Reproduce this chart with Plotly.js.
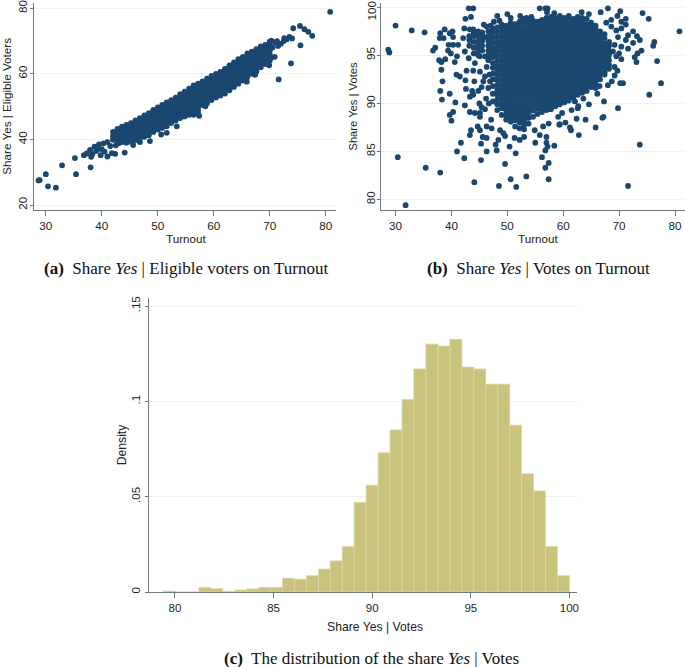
<!DOCTYPE html>
<html><head><meta charset="utf-8">
<script src="https://cdn.plot.ly/plotly-3.0.1.min.js"></script>
<style>html,body{margin:0;padding:0;background:#fff}#c{width:685px;height:667px}</style>
</head><body><div id="c"></div>
<script>
// Panel (a): isolated points, [turnout, share yes of eligible voters]
const eligibleLoose = [[28.7,27.5],[28.9,27.6],[30,29.4],[30.4,25.7],[31.8,25.3],[32.9,32.1],[35.2,34.3],[35.4,29.4],[38,31.5],[36.8,35.2],[37.3,35.7],[38.1,34.7],[37.9,36.8],[38.3,35.5],[38.7,37.8],[39.5,38.5],[40.3,38.8],[41,39.2],[41.5,38],[40,37],[39,36.5],[40.5,36.3],[39.8,35.2],[39.4,37.2],[41,34.8],[41.8,35.8],[42.4,35.6],[44.1,36],[48.6,39.5],[50.6,41.5],[51.6,42],[53.4,44],[58.5,50.1],[57.4,47.2],[57,48],[65.9,57.6],[67.4,59.7],[67.6,60.6],[69.9,62.6],[71.6,58.3],[73.8,63.2],[75.5,68.7],[74.2,73.9],[75.4,74.6],[76.2,73.6],[76.9,72.8],[77.6,71.6],[80.8,78.9],[70.5,68],[71,69.5],[71.5,68.5],[72,69.2],[72.5,70],[73,70.5],[73.5,71.3],[74,70.8],[72.6,70.9],[71.3,70],[70.3,70.1],[70.9,65.2],[70.3,65],[42.5,38.2],[43,38.8],[45.6,38.3],[46.8,39.2]];
// Panel (a): dense band, each row is [turnout, share, share, ...]
const eligibleBand = [
[42,39.9,41,42.3],[42.8,39.6,40.6,41.6,42.6,43.2],[43.6,39.2,40.2,41.2,42.2,43.2,43.9],[44.4,39,40,41,42,43,44,44.4],[45.2,39.3,40.3,41.3,42.3,43.3,44.3,45],
[46,39.8,40.8,41.8,42.8,43.8,44.8,45.8],[46.8,40.3,41.3,42.3,43.3,44.3,45.3,46.5],[47.6,40.8,41.8,42.8,43.8,44.8,45.8,46.8,47.3],[48.4,41.3,42.3,43.3,44.3,45.3,46.3,47.3,48],[49.2,42.3,43.3,44.3,45.3,46.3,47.3,48.3,49],
[50,43,44,45,46,47,48,49,49.8],[50.8,43.5,44.5,45.5,46.5,47.5,48.5,49.5,50.5],[51.6,44,45,46,47,48,49,50,51,51.3],[52.4,45,46,47,48,49,50,51,52],[53.2,45.8,46.8,47.8,48.8,49.8,50.8,51.8,52.7],
[54,46.5,47.5,48.5,49.5,50.5,51.5,52.5,53.8],[54.8,47,48,49,50,51,52,53,54,54.6],[55.6,47.5,48.5,49.5,50.5,51.5,52.5,53.5,54.5,55.5],[56.4,47.5,48.5,49.5,50.5,51.5,52.5,53.5,54.5,55.5,56.5],[57.2,48,49,50,51,52,53,54,55,56,57],
[58,50.5,51.5,52.5,53.5,54.5,55.5,56.5,57.7],[58.8,51,52,53,54,55,56,57,58,58.5],[59.6,52,53,54,55,56,57,58,59,59.4],[60.4,52.8,53.8,54.8,55.8,56.8,57.8,58.8,60],[61.2,53.4,54.4,55.4,56.4,57.4,58.4,59.4,60.6],
[62,54,55,56,57,58,59,60,61,61.5],[62.8,55,56,57,58,59,60,61,62,62.6],[63.6,56,57,58,59,60,61,62,63,63.5],[64.4,57,58,59,60,61,62,63,64,64.5],[65.2,58,59,60,61,62,63,64,65.2],
[66,59,60,61,62,63,64,65,66.2],[66.8,60,61,62,63,64,65,66,66.8],[67.6,60.8,61.8,62.8,63.8,64.8,65.8,66.8,67.5],[68.4,62,63,64,65,66,67,68,68.4],[69.2,63,64,65,66,67,68,68.8],[70,64,65,66,67,68,69,69.8]
];
// Panel (b): isolated points, [turnout, share yes of votes]
const votesLoose = [[28.7,95.6],[28.9,95.3],[30,98.1],[30.4,84.4],[31.8,79.4],[32.9,97.6],[35.2,97.4],[35.4,83.3],[38,82.8],[36.7,95.5],[37.1,95.8],[37.8,94.5],[38.2,94.3],[38.9,94.6],[38.2,93.5],[38.4,92.3],[38,91.3],[38.3,90.4],[39.7,91],[40.7,90.1],[40.3,89.1],[39.7,88.8],[40,88.2],[41,85],[41.7,85.9],[42.3,84.3],[44.1,81.8],[45.3,84.1],[46.3,85],[48.1,85.1],[47.9,85.7],[48.5,81.4],[49.6,83.7],[50.6,82.1],[50.4,85.5],[51.5,84.8],[51.6,81.3],[53.4,82.4],[56.2,84.4],[56.8,83.3],[57.4,83.8],[57.4,82.1],[58.4,85.6],[62.8,86.7],[65.8,87.5],[71.6,81.4],[73.7,85.7],[69.8,89.5],[67.3,90.2],[67.2,88.6],[67,88.5],[64,88.3],[62.4,88.4],[75.4,90.9],[77.5,92.1],[76.8,94.4],[76.1,96],[76.3,96.4],[75.3,98.8],[74.2,99.4],[80.8,97.5],[73.1,94.3],[74,95.5],[73.3,95.2],[72.8,94.8],[72.5,97.5],[73.2,97],[73.7,96.6],[72.5,96.3],[71.2,98.8],[71.2,98.2],[70.2,99.6],[69.7,99.1],[70.4,98.5],[68,99.9],[66.7,99.5],[68.6,98.7],[67.7,98.4],[68.6,98],[69.5,97.6],[70.4,97.8],[71.6,97.1],[71.2,96.6],[69.8,96.9],[69.2,96.1],[70.4,95.9],[71.6,95.7],[68.9,95.4],[70,95.2],[69.5,94.9],[70.4,94.6],[69.2,93.8],[69.7,93.4],[69.2,92.9],[68.7,92.3],[68,91.9],[66.5,91.8],[65.8,91.6],[66.1,91],[70.7,92.1],[70.2,92.1],[64.6,89.9],[62.6,89.5],[61.2,87.5],[59.3,87.8],[60.4,88],[63.3,99.5],[64.6,99.3],[43.1,99.9],[43.9,99.9],[43.5,99],[42.5,98.8],[42.3,97.8],[43.3,97.7],[43.9,97.7],[45.8,98.2],[48.2,99.1],[50,99.3],[52.3,99.1],[55.8,99.9],[56.8,99.9],[57.2,99.9],[57.1,99.5],[58.4,99.4],[38.8,97.7],[38,97.3],[37.9,96.8],[38.6,96.8],[40.2,97.5],[39.7,97.3],[40.3,96.9],[39.5,96.1],[40.3,96.1],[41.2,96.1],[39.4,95.5],[39.9,95.2],[41,94.9],[40.6,94.3],[42.1,96.8],[42.4,95.4],[43.1,94.7],[44.2,94.2],[42.7,93.4],[43.9,93.4],[40.9,93],[41.5,92.8],[42.5,92.4],[44.1,92.3],[42.6,91.5],[43.7,91.3],[44.8,91.3],[43.3,90.7],[43.9,90.9],[42.4,89.8],[43.3,89.1],[44.2,89],[45.4,89.6],[45,90],[45.1,89],[46,89.4],[45.1,88.6],[44.7,87.6],[45.1,87.2],[43.5,87.2],[43.3,86.7],[45.3,85.8],[45.6,86.5],[46.3,86.4],[46.3,87.6],[47.1,88.3],[47.2,87.4],[48.7,87.2],[49.3,86.9],[48.4,86.2],[49.6,86.6],[51.3,86.4],[52.2,86.2],[53,86.5],[55,85.9],[55.8,86.7],[57,86.5],[57,85.9],[57.2,85.5],[56.8,85.1],[54.9,87.2],[56.4,87.6],[57.4,87.9],[59.1,88.6],[59.4,87.8],[61.4,87.2],[59.8,89],[61.5,89.3],[62.7,89.7],[62.1,90.2],[63.6,90.5],[45.1,93.3],[46,92.8],[45.7,92.3],[45.4,91.7],[46.6,91.6],[46.3,93.8],[45.1,94.9],[46,94.9],[46.2,90.5],[46.7,90],[46.9,92.3],[46.8,93],[45.9,96.9],[46.3,98],[47,98.1],[47.6,98.5],[48.6,98.6],[50.6,98.9],[52.8,98.8],[54.3,99],[53.4,98.9]];
// Panel (b): dense cloud, each row is [turnout, share, share, ...]
const votesCloud = [
[43.2,96,96.6,97],[44,95.2,95.8,96.4,97,97.3],[44.8,95,95.5,96,96.5,97,97.5],[45.5,95.5,96,96.5,97,97.4],
[46.6,94.5,95,95.5,96,96.5,97,97.5],
[47.4,90.2,91,91.8,92.5,93.1,93.7,94.2,94.8,95.3,95.8,96.3,96.8,97.3,97.8],
[48.2,89.3,89.9,90.4,90.9,91.4,91.9,92.4,92.9,93.4,93.9,94.4,94.9,95.4,95.9,96.4,96.9,97.4,97.9],
[49,88.8,89.5,90,90.5,91,91.5,92,92.5,93,93.5,94,94.5,95,95.5,96,96.5,97,97.5,98,98.2],
[49.8,88.3,88.75,89.25,89.75,90.25,90.75,91.25,91.75,92.25,92.75,93.25,93.75,94.25,94.75,95.25,95.75,96.25,96.75,97.25,97.75,98.1],
[50.6,88.1,88.5,89,89.5,90,90.5,91,91.5,92,92.5,93,93.5,94,94.5,95,95.5,96,96.5,97,97.5,98,98.4],
[51.4,87.6,88.25,88.75,89.25,89.75,90.25,90.75,91.25,91.75,92.25,92.75,93.25,93.75,94.25,94.75,95.25,95.75,96.25,96.75,97.25,97.75,98.25],
[52.2,87.4,88,88.5,89,89.5,90,90.5,91,91.5,92,92.5,93,93.5,94,94.5,95,95.5,96,96.5,97,97.5,98,98.5],
[53,87.3,87.75,88.25,88.75,89.25,89.75,90.25,90.75,91.25,91.75,92.25,92.75,93.25,93.75,94.25,94.75,95.25,95.75,96.25,96.75,97.25,97.75,98.3],
[53.8,87.9,88.5,89,89.5,90,90.5,91,91.5,92,92.5,93,93.5,94,94.5,95,95.5,96,96.5,97,97.5,98,98.5],
[54.6,88.6,89.25,89.75,90.25,90.75,91.25,91.75,92.25,92.75,93.25,93.75,94.25,94.75,95.25,95.75,96.25,96.75,97.25,97.75,98.25,98.6],
[55.4,88.9,89.5,90,90.5,91,91.5,92,92.5,93,93.5,94,94.5,95,95.5,96,96.5,97,97.5,98,98.5],
[56.2,89.1,89.25,89.75,90.25,90.75,91.25,91.75,92.25,92.75,93.25,93.75,94.25,94.75,95.25,95.75,96.25,96.75,97.25,97.75,98.25,98.7],
[57,89.3,89.5,90,90.5,91,91.5,92,92.5,93,93.5,94,94.5,95,95.5,96,96.5,97,97.5,98,98.5,98.9],
[57.8,89.4,89.75,90.25,90.75,91.25,91.75,92.25,92.75,93.25,93.75,94.25,94.75,95.25,95.75,96.25,96.75,97.25,97.75,98.25,98.75,99],
[58.6,89.7,90,90.5,91,91.5,92,92.5,93,93.5,94,94.5,95,95.5,96,96.5,97,97.5,98,98.5,98.9],
[59.4,89.9,90.25,90.75,91.25,91.75,92.25,92.75,93.25,93.75,94.25,94.75,95.25,95.75,96.25,96.75,97.25,97.75,98.25,98.75,99.1],
[60.2,90.1,90.5,91,91.5,92,92.5,93,93.5,94,94.5,95,95.5,96,96.5,97,97.5,98,98.5,98.9],
[61,90.3,90.75,91.25,91.75,92.25,92.75,93.25,93.75,94.25,94.75,95.25,95.75,96.25,96.75,97.25,97.75,98.25,98.75,99.1],
[61.8,90.6,91,91.5,92,92.5,93,93.5,94,94.5,95,95.5,96,96.5,97,97.5,98,98.5,98.8],
[62.6,90.9,91.25,91.75,92.25,92.75,93.25,93.75,94.25,94.75,95.25,95.75,96.25,96.75,97.25,97.75,98.25,98.75,99],
[63.4,91.1,91.5,92,92.5,93,93.5,94,94.5,95,95.5,96,96.5,97,97.5,98,98.5,98.9],
[64.2,91.3,91.75,92.25,92.75,93.25,93.75,94.25,94.75,95.25,95.75,96.25,96.75,97.25,97.75,98.25,98.8],
[65,91.7,92,92.5,93,93.5,94,94.5,95,95.5,96,96.5,97,97.5,98,98.4],
[65.8,92,92.25,92.75,93.25,93.75,94.25,94.75,95.25,95.75,96.25,96.75,97.25,97.75,98.1],
[66.6,92.5,93,93.5,94,94.5,95,95.5,96,96.5,97,97.5],
[67.4,93,93.25,93.75,94.25,94.75,95.25,95.75,96.25,96.8,97.2],
[68.2,93.6,94,94.5,95,95.5,96,96.4]
];
// Panel (c): histogram
const binCenters = [79.7,80.3,80.91,81.52,82.12,82.73,83.33,83.94,84.55,85.15,85.76,86.36,86.97,87.58,88.18,88.79,89.39,90,90.61,91.21,91.82,92.42,93.03,93.64,94.24,94.85,95.45,96.06,96.67,97.27,97.88,98.48,99.09,99.7];
const binDensity = [.0005,0,0,.0024,.0017,.0003,.001,.0016,.0024,.0024,.0072,.0067,.0085,.012,.0163,.0238,.047,.056,.073,.085,.101,.117,.13,.129,.1325,.118,.117,.109,.109,.0875,.062,.053,.0238,.0085];
const densityTicks = [0,.05,.1,.15];
const densityLabels = ['0','.05','.1','.15'];
const turnoutTicks = [30,40,50,60,70,80];
const eligibleTicks = [20,40,60,80];
const votesTicks = [80,85,90,95,100];
const votesLabels = ['80','85','90','95',''];
const topVotesLabel = '100';
const shareTicks = [80,85,90,95,100];
const captions = ['<b>(a)</b>  Share <i>Yes</i> | Eligible voters on Turnout','<b>(b)</b>  Share <i>Yes</i> | Votes on Turnout','<b>(c)</b>  The distribution of the share <i>Yes</i> | Votes'];
const xTitles = ['Turnout','Turnout','Share Yes | Votes'];

const W=685,H=667, NAVY='#1a476f', GRID='#eaf2f3', AX='#6f7a7a', SANS='"Liberation Sans",Arial,sans-serif', SERIF='"Liberation Serif","Times New Roman",serif', FS=11.7;
const expand = rows => rows.flatMap(r => r.slice(1).map(v => [r[0], v]));
const a = eligibleLoose.concat(expand(eligibleBand));
const b = votesLoose.concat(expand(votesCloud));
const dot = {color:NAVY,size:5.8,line:{width:0}};
const traces = [
 {type:'scatter',mode:'markers',x:a.map(p=>p[0]),y:a.map(p=>p[1]),marker:dot,xaxis:'x',yaxis:'y',cliponaxis:false},
 {type:'scatter',mode:'markers',x:b.map(p=>p[0]),y:b.map(p=>p[1]),marker:dot,xaxis:'x2',yaxis:'y2',cliponaxis:false},
 {type:'bar',x:binCenters,y:binDensity,width:0.606,marker:{color:'#c9c37d',line:{color:'#d9d5a0',width:0.8}},xaxis:'x3',yaxis:'y3'}
];
function xax(px0,px1,range,ticks,anchor,fs){return {domain:[px0/W,px1/W],range,tickmode:'array',tickvals:ticks,ticktext:ticks.map(String),showgrid:false,zeroline:false,showline:true,linecolor:AX,linewidth:1,ticks:'outside',ticklen:5,tickcolor:AX,tickangle:0,tickfont:{family:SANS,size:fs,color:'#222'},anchor,automargin:false,ticklabeloverflow:'allow'};}
function yax(px0,px1,range,ticks,labels,title,anchor,standoff,shift,fs,tfs){return {domain:[1-px1/H,1-px0/H],range,tickmode:'array',tickvals:ticks,ticktext:labels,showgrid:true,gridcolor:GRID,gridwidth:1,zeroline:false,showline:true,linecolor:AX,linewidth:1,ticks:'outside',ticklen:3,tickcolor:AX,tickangle:-90,ticklabelstandoff:shift,tickfont:{family:SANS,size:fs,color:'#222'},title:{text:title,font:{family:SANS,size:tfs,color:'#222'},standoff},anchor,automargin:false,ticklabeloverflow:'allow'};}
const cap=(text,px,py)=>({text,x:px/W,y:1-py/H,xref:'paper',yref:'paper',showarrow:false,xanchor:'center',yanchor:'middle',font:{family:SERIF,size:17,color:'#111'}});
const xt=(text,px,py,fs)=>({text,x:px/W,y:1-py/H,xref:'paper',yref:'paper',showarrow:false,xanchor:'center',yanchor:'middle',font:{family:SANS,size:fs,color:'#222'}});
const layout={width:W,height:H,margin:{l:0,r:0,t:0,b:0},paper_bgcolor:'#fff',plot_bgcolor:'#fff',showlegend:false,bargap:0,
 xaxis:xax(33.5,336,[27.8,81.84],turnoutTicks,'y',FS),
 yaxis:yax(3,209.7,[18.57,81.6],eligibleTicks,eligibleTicks.map(String),'Share Yes | Eligible Voters','x',7,-2,FS,FS),
 xaxis2:xax(381,684.5,[27.4,81.7],turnoutTicks,'y2',FS),
 yaxis2:yax(3,210,[78.9,100.45],votesTicks,votesLabels,'Share Yes | Votes','x2',4,-3,FS,11.2),
 xaxis3:xax(149.3,576.7,[78.7,100.37],shareTicks,'y3',11.5),
 yaxis3:yax(298,592,[0,.1542],densityTicks,densityLabels,'Density','x3',0,1,11.5,12.2),
 annotations:[cap(captions[0],187,268.5),cap(captions[1],538,268.5),cap(captions[2],371,658),xt(xTitles[0],187,238,FS),xt(xTitles[1],538,238,FS),xt(xTitles[2],375,627,12.2),
  Object.assign(xt(topVotesLabel,371,10.5,FS),{textangle:-90})]
};
Plotly.newPlot('c',traces,layout,{displayModeBar:false,staticPlot:true});
</script></body></html>
